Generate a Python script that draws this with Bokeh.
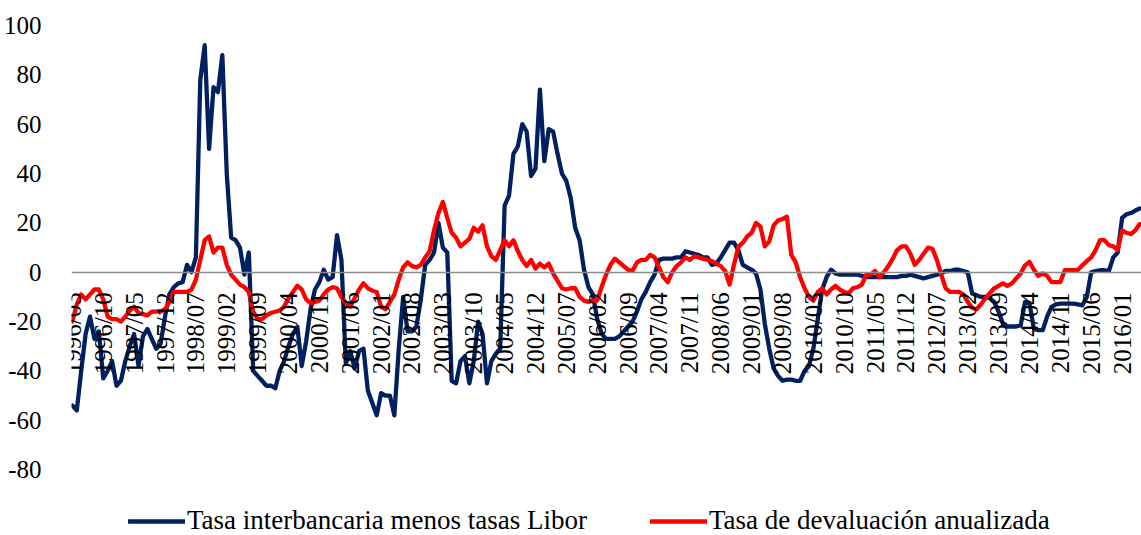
import math
from bokeh.plotting import figure
from bokeh.models import Range1d, FixedTicker, Legend, LegendItem, ColumnDataSource
from bokeh.embed import file_html
from bokeh.resources import INLINE

# ---------------- data ----------------
tick_labels = ["1996/03", "1996/10", "1997/05", "1997/12", "1998/07", "1999/02", "1999/09",
               "2000/04", "2000/11", "2001/06", "2002/01", "2002/08", "2003/03", "2003/10",
               "2004/05", "2004/12", "2005/07", "2006/02", "2006/09", "2007/04", "2007/11",
               "2008/06", "2009/01", "2009/08", "2010/03", "2010/10", "2011/05", "2011/12",
               "2012/07", "2013/02", "2013/09", "2014/04", "2014/11", "2015/06", "2016/01"]

y_ticks = [-80, -60, -40, -20, 0, 20, 40, 60, 80, 100]

# Tasa interbancaria menos tasas Libor (monthly, from 1996/03)
interbank_minus_libor = [
    -54, -56, -40, -25, -18, -27, -24, -43, -40, -36,
    -46, -44, -36, -30, -25, -38, -26, -23, -27, -31,
    -29, -18, -9, -6, -4.5, -4, 3, 0, 6, 78,
    92, 50, 75, 73, 88, 40, 14, 13, 10, -1,
    8, -40, -42, -44, -46, -46, -47, -40, -36, -30,
    -25, -22, -38, -28, -15, -7, -4, 1, -3, -2,
    15, 5, -37, -32, -39, -32, -31, -48, -53, -58,
    -49, -50, -50, -58, -31, -10, -24, -24, -22, -11,
    3, 5, 8, 20, 10, 8, -44, -45, -36, -34,
    -45, -36, -20, -25, -45, -36, -33, -31, 27, 31,
    48, 51, 60, 57, 39, 42, 74, 45, 58, 57,
    48, 40, 37, 30, 18, 13, 1, -6, -9, -19,
    -25, -27, -27, -27, -26, -24, -22, -20, -16, -11,
    -8, -4, -1, 5, 5.5, 5.5, 5.5, 6, 6, 8.5,
    8, 7.5, 7, 6, 6, 3, 3.5, 6, 9, 12,
    12, 9, 3, 2, 1, -0.5, -7, -21, -31, -39,
    -42, -44, -43.5, -43.5, -44, -44, -40, -38, -31, -19,
    -7, -2, 1, -0.5, -1, -1, -1, -1, -1, -1.5,
    -2, -2, -2, -2, -2, -2, -2, -2, -1.5, -1.5,
    -1, -1.5, -2, -2.5, -2, -1.5, -1, -0.5, 0.5, 0.5,
    1, 1, 0.5, 0, -8.6, -9.3, -10, -10, -10.5, -12,
    -16, -21, -22, -22, -22, -21.5, -12, -12.5, -23, -23.5,
    -23.5, -18, -14, -13, -12.7, -12.7, -12.7, -12.7, -13, -13.4,
    -10, 0, 0.5, 0.8, 0.8, 0.5, 6, 8, 22, 23.5,
    24, 25, 25.8]

# Tasa de devaluación anualizada (monthly, from 1996/03)
devaluation_rate = [
    -20, -13, -9, -11, -9, -7, -7, -11, -18, -19,
    -19, -20, -18, -15.5, -14, -16.5, -17, -17.5, -16, -16,
    -16, -15, -12, -8, -8, -8, -8, -7, -3, 5,
    13, 14.5, 8, 10, 10, 3, -1, -3, -5, -6,
    -8, -16, -19, -19, -17.5, -16.5, -16, -15.5, -14, -10.5,
    -8, -5.5, -7, -11, -12.5, -12, -11.5, -9, -7, -6,
    -6.5, -10, -12.5, -14, -10.5, -7, -4.5, -6.5, -7.5, -8,
    -14, -15, -12, -9, -3, 2, 4, 2.5, 2, 3,
    6, 8.5, 17, 24, 28.5, 22, 16, 14, 10.5, 12,
    13.5, 18, 16.5, 19, 10.5, 6.5, 5, 9, 13, 10.5,
    13, 8.5, 5, 2.5, 5, 1.5, 3.5, 2, 3.5, -0.5,
    -3.5, -6.5, -7, -6.5, -6.5, -10, -11.5, -12, -11.5, -11.5,
    -6, -1, 3, 5.5, 4, 2.5, 1, 0.5, 4, 5,
    5, 7, 6, 2, -2, -4, 0, 2.5, 4, 6,
    5, 6.5, 6, 5.5, 5, 4.5, 3.5, 2.5, 0.5, -5,
    3, 10.3, 12, 14.5, 16, 20, 18.5, 10.5, 12.5, 19,
    21, 21.5, 22.5, 7, 4, -2, -6.5, -10, -11.5, -8,
    -6.5, -9, -7, -5.5, -7, -8, -8.5, -6.5, -6, -5,
    -1, -1, 0.5, -2, 0, 2.5, 5.5, 9, 10.5, 10.5,
    7.5, 3, 5, 7.5, 10, 9.5, 5, -1, -6.5, -8,
    -8, -8, -9, -12, -14.5, -15, -13, -10.5, -8.5, -6.5,
    -5.5, -4.5, -5.5, -4.5, -2.5, -0.5, 2.8, 4.2, 1, -1.5,
    -0.5, -1.5, -4, -4, -4, 0.8, 0.8, 0.8, 1, 2.8,
    4.5, 6, 9, 13, 13, 11, 10.5, 9, 17, 16,
    15.5, 17, 19.5]

# month categories (1996/03 onward)
months = [f"{1996 + (2 + i) // 12}/{(2 + i) % 12 + 1:02d}" for i in range(len(interbank_minus_libor))]
x_idx = list(range(len(months)))

src = ColumnDataSource(dict(x=x_idx, month=months,
                            blue=interbank_minus_libor, red=devaluation_rate))

FONT = "Liberation Serif"

p = figure(width=1141, height=535,
           x_range=Range1d(-0.2, 242.4), y_range=Range1d(-106.7, 100),
           output_backend="svg", toolbar_location=None,
           min_border_left=71, min_border_right=0,
           min_border_top=25, min_border_bottom=0)
p.outline_line_color = None
p.background_fill_color = "white"
p.border_fill_color = "white"
p.xgrid.visible = False
p.ygrid.visible = False

r_blue = p.line("x", "blue", source=src, line_color="#002060", line_width=4.3,
                line_join="round", line_cap="round")
r_red = p.line("x", "red", source=src, line_color="#FF0000", line_width=4.3,
               line_join="round", line_cap="round")

# y axis
yax = p.yaxis[0]
yax.ticker = FixedTicker(ticks=y_ticks)
yax.major_label_overrides = {v: str(v) for v in y_ticks}
yax.axis_line_color = None
yax.major_tick_line_color = None
yax.minor_tick_line_color = None
yax.major_label_standoff = 24
yax.major_label_text_font = FONT
yax.major_label_text_font_size = "25px"
yax.major_label_text_color = "black"

# x axis crossing at zero
tick_pos = [months.index(l) for l in tick_labels]
xax = p.xaxis[0]
xax.fixed_location = 0
xax.ticker = FixedTicker(ticks=tick_pos)
xax.major_label_overrides = {pos: lab for pos, lab in zip(tick_pos, tick_labels)}
xax.major_label_orientation = math.pi / 2
xax.axis_line_color = "#8c8c8c"
xax.axis_line_width = 1.5
xax.major_tick_line_color = None
xax.minor_tick_line_color = None
xax.major_label_standoff = 14
xax.major_label_text_font = FONT
xax.major_label_text_font_size = "25px"
xax.major_label_text_color = "black"

legend = Legend(items=[
    LegendItem(label="Tasa interbancaria menos tasas Libor", renderers=[r_blue]),
    LegendItem(label="Tasa de devaluación anualizada", renderers=[r_red]),
], location=(57, -1), orientation="horizontal")
legend.label_text_font = FONT
legend.label_text_font_size = "27px"
legend.label_text_color = "black"
legend.glyph_width = 57
legend.glyph_height = 20
legend.label_standoff = 2
legend.spacing = 63
legend.padding = 0
legend.margin = 0
legend.border_line_color = None
legend.background_fill_alpha = 0
p.add_layout(legend, "center")

open("out.html", "w").write(file_html(p, INLINE))
